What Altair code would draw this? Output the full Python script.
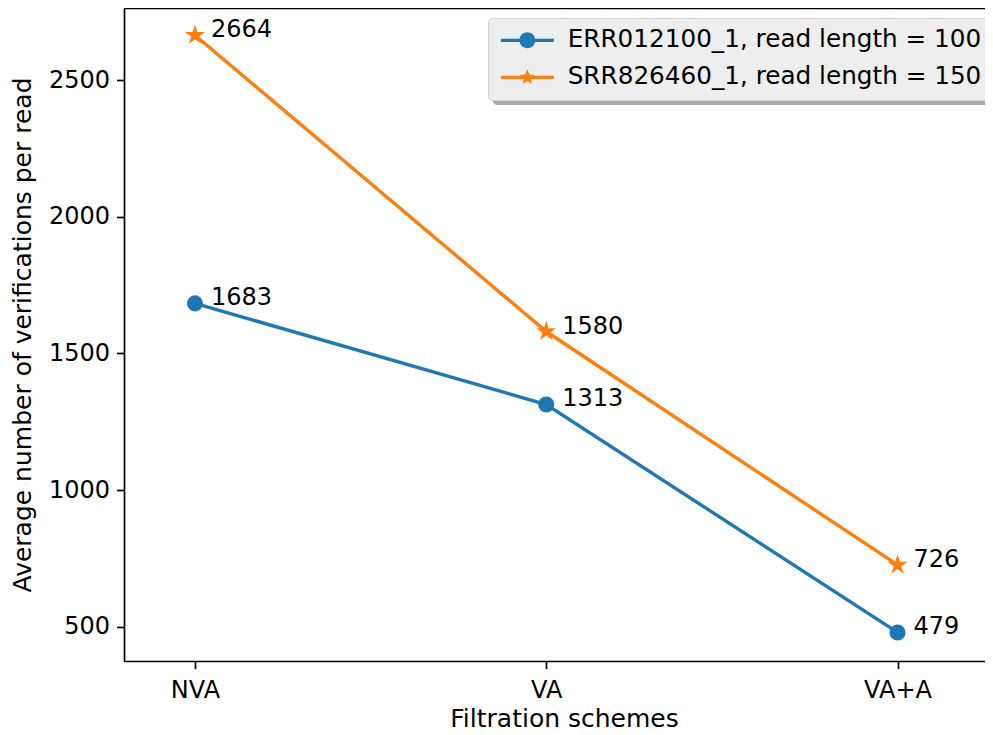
import math
import altair as alt
import pandas as pd

# ---- data ----
schemes = ["NVA", "VA", "VA+A"]
series_names = ["ERR012100_1, read length = 100", "SRR826460_1, read length = 150"]
err_values = [1683, 1313, 479]
srr_values = [2664, 1580, 726]
y_ticks = [500, 1000, 1500, 2000, 2500]
colors = ["#1f77b4", "#ff7f0e"]

rows = []
for i, s in enumerate(schemes):
    rows.append({"idx": i, "scheme": s, "value": err_values[i], "series": series_names[0]})
    rows.append({"idx": i, "scheme": s, "value": srr_values[i], "series": series_names[1]})
df = pd.DataFrame(rows)

FONT = "DejaVu Sans"
FS = 24
TFS = 25
LFS = 24.7


def star_points(R, ratio=0.381966, start=-90):
    pts = []
    for k in range(10):
        r = R if k % 2 == 0 else R * ratio
        a = math.radians(start + 36 * k)
        pts.append((r * math.cos(a), r * math.sin(a)))
    return pts


def star_path(R, ratio=0.381966):
    pts = star_points(R, ratio)
    return "M" + "L".join(f"{x:.4f},{y:.4f}" for x, y in pts) + "Z"


circle_unit = "M1,0A1,1 0 1,1 -1,0A1,1 0 1,1 1,0Z"
legend_bar = "M-3.31,-0.21H3.31V0.21H-3.31Z"
legend_circle_path = legend_bar + circle_unit
legend_star_path = legend_bar + star_path(1.0, 0.45)
plot_star_path = star_path(1.0)

label_expr = "[" + ",".join(f"'{s}'" for s in schemes) + "][datum.value]"

x_scale = alt.Scale(domain=[-0.202, 2.249], nice=False, zero=False)
y_scale = alt.Scale(domain=[374.5, 2763.7], nice=False, zero=False)

x_bottom = alt.X(
    "idx:Q",
    scale=x_scale,
    axis=alt.Axis(
        orient="bottom",
        values=[0, 1, 2],
        labelExpr=label_expr,
        title="Filtration schemes",
        titleX=440,
        titleY=65,
        titleBaseline="alphabetic",
        titleAnchor="middle",
        titleFontSize=TFS,
        labelPadding=10,
    ),
)
x_top = alt.X(
    "idx:Q",
    scale=x_scale,
    axis=alt.Axis(orient="top", labels=False, ticks=False, title=None, domain=True),
)
x_none = alt.X("idx:Q", scale=x_scale, axis=None)
y_enc = alt.Y(
    "value:Q",
    scale=y_scale,
    axis=alt.Axis(
        values=y_ticks,
        format="d",
        title="Average number of verifications per read",
        titleX=-102,
        titleBaseline="middle",
        titleFontSize=TFS,
        labelPadding=7,
    ),
)
y_none = alt.Y("value:Q", scale=y_scale, axis=None)

shadow = (
    alt.Chart(pd.DataFrame({"a": [0]}))
    .mark_rect(color="#a9a9a9", cornerRadius=4)
    .encode(x=alt.value(369), x2=alt.value(869), y=alt.value(16), y2=alt.value(97))
)

layers = [shadow]
for k, name in enumerate(series_names):
    sub = df[df["series"] == name]
    xe = x_bottom if k == 0 else x_top
    ye = y_enc if k == 0 else y_none
    layers.append(
        alt.Chart(sub).mark_line(strokeWidth=3.4, color=colors[k]).encode(x=xe, y=ye)
    )
    if k == 0:
        pt = alt.Chart(sub).mark_point(
            shape="circle", filled=True, size=190, opacity=1, color=colors[k],
            stroke=colors[k], strokeWidth=2.3,
        )
    else:
        pt = alt.Chart(sub).mark_point(
            shape=plot_star_path, filled=True, size=185, opacity=1, color=colors[k],
            stroke=colors[k], strokeWidth=2.3,
        )
    layers.append(pt.encode(x=x_none, y=y_none))

labels = (
    alt.Chart(df)
    .mark_text(align="left", baseline="alphabetic", dx=16, dy=2, fontSize=FS, font=FONT, color="black")
    .encode(x=x_none, y=y_none, text=alt.Text("value:Q", format="d"))
)
layers.append(labels)

legend_def = alt.Legend(
    orient="none",
    legendX=364,
    legendY=10,
    title=None,
    direction="vertical",
    labelFont=FONT,
    labelFontSize=LFS,
    labelColor="black",
    labelLimit=0,
    fillColor="#eeeeee",
    strokeColor="#d0d0d0",
    cornerRadius=4,
    padding=10,
    symbolOffset=17,
    labelOffset=28,
    rowPadding=11,
    symbolSize=256,
    symbolStrokeWidth=0,
    symbolOpacity=1,
)

legend_layer = (
    alt.Chart(df)
    .mark_point(filled=True, opacity=0, size=256)
    .encode(
        x=x_none,
        y=y_none,
        color=alt.Color("series:N", scale=alt.Scale(domain=series_names, range=colors), legend=legend_def),
        shape=alt.Shape(
            "series:N",
            scale=alt.Scale(domain=series_names, range=[legend_circle_path, legend_star_path]),
            legend=legend_def,
        ),
    )
)
layers.append(legend_layer)

chart = (
    alt.layer(*layers)
    .resolve_axis(x="independent", y="independent")
    .properties(
        width=861,
        height=653,
        autosize=alt.AutoSizeParams(type="none"),
        padding={"left": 116, "top": 0, "right": 0, "bottom": 66},
    )
    .configure(font=FONT)
    .configure_view(stroke=None)
    .configure_axis(
        grid=False,
        domainColor="black",
        domainWidth=1.7,
        tickColor="black",
        tickWidth=1.7,
        tickSize=7.5,
        labelFont=FONT,
        labelFontSize=FS,
        labelColor="black",
        titleFont=FONT,
        titleFontSize=TFS,
        titleFontWeight="normal",
        titleColor="black",
    )
)

chart.save("out.html", embed_options={"renderer": "svg", "actions": False})
